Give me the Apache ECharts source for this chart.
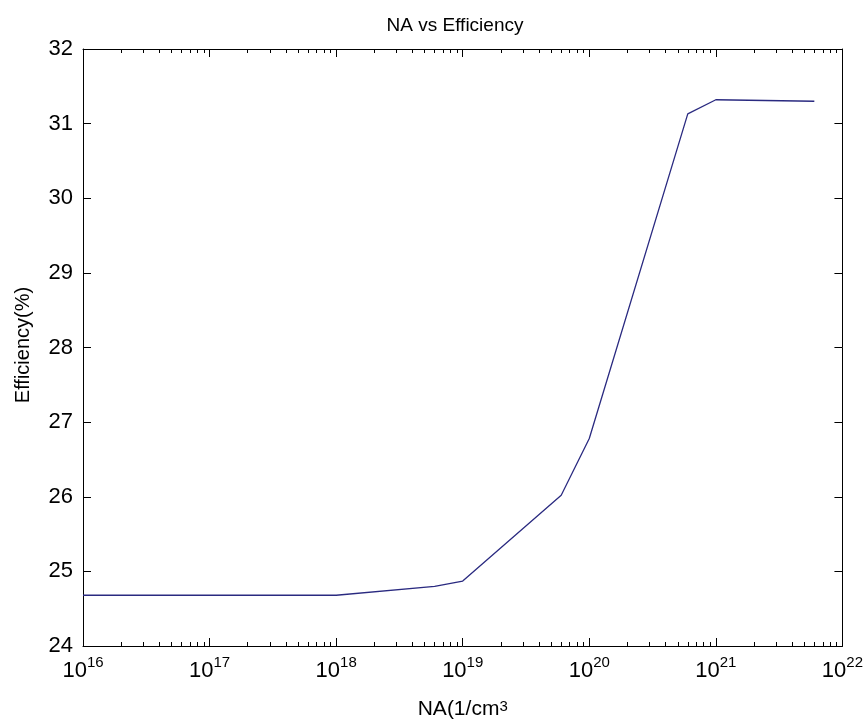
<!DOCTYPE html>
<html>
<head>
<meta charset="utf-8">
<script src="https://cdn.jsdelivr.net/npm/echarts@6/dist/echarts.min.js"></script>
<style>
html,body{margin:0;padding:0;background:#fff;}
#chart{width:866px;height:725px;}
</style>
</head>
<body>
<div id="chart"></div>
<script>
// ---- data ----
var naValues = [1e16, 1e17, 1e18, 6e18, 1e19, 6e19, 1e20, 6e20, 1e21, 6e21];
var efficiency = [24.68, 24.68, 24.68, 24.80, 24.87, 26.02, 26.78, 31.13, 31.32, 31.30];
var xMin = 1e16, xMax = 1e22;
var yMin = 24, yMax = 32, yStep = 1;
var titleText = 'NA vs Efficiency';
var yName = 'Efficiency(%)';
var xName = 'NA(1/cm{s|3}';

// minor log tick positions (2..9 x 10^k)
var minorTicks = [];
for (var k = 16; k < 22; k++) {
  for (var m = 2; m <= 9; m++) minorTicks.push(m * Math.pow(10, k));
}
var majorTicks = [];
for (var k2 = 16; k2 <= 22; k2++) majorTicks.push(Math.pow(10, k2));

var FONT = 'Liberation Sans, Arial, sans-serif';
var AX = {color: '#000', width: 1};

function xAx(pos, showLine, ticks, len, labels) {
  return {
    type: 'log', logBase: 10, min: xMin, max: xMax, position: pos,
    axisLine: {show: showLine, onZero: false, lineStyle: AX},
    axisTick: {show: true, inside: true, length: len, customValues: ticks, lineStyle: AX},
    axisLabel: labels ? {
      show: true, customValues: majorTicks, margin: 9,
      formatter: function (v) { return '{b|10}{s|' + Math.round(Math.log10(v)) + '}'; },
      rich: {
        b: {fontSize: 22, fontFamily: FONT, color: '#000', verticalAlign: 'bottom', lineHeight: 27},
        s: {fontSize: 15, fontFamily: FONT, color: '#000', verticalAlign: 'top', lineHeight: 15}
      }
    } : {show: false},
    splitLine: {show: false}, minorTick: {show: false}
  };
}

var chart = echarts.init(document.getElementById('chart'), null, {renderer: 'canvas'});
var xAxes = [
  xAx('bottom', true, majorTicks, 8, true),
  xAx('bottom', false, minorTicks, 4, false),
  xAx('top', true, majorTicks, 8, false),
  xAx('top', false, minorTicks, 4, false)
];
xAxes[0].name = xName;
xAxes[0].nameLocation = 'middle';
xAxes[0].nameGap = 53;
xAxes[0].nameTextStyle = {
  fontSize: 21, fontFamily: FONT, color: '#000',
  rich: {s: {fontSize: 15, fontFamily: FONT, color: '#000', verticalAlign: 'top', lineHeight: 15}}
};

var option = {
  backgroundColor: '#fff',
  animation: false,
  title: {
    text: titleText, left: 450, top: 11, textAlign: 'center',
    textStyle: {fontSize: 19, fontWeight: 'normal', fontFamily: FONT, color: '#000'}
  },
  graphic: [{
    type: 'text', x: 23, y: 345, rotation: Math.PI / 2,
    style: {text: yName, fontSize: 20, fontFamily: FONT, fill: '#000', align: 'center', verticalAlign: 'middle'}
  }],
  grid: {left: 83, right: 22, top: 49, bottom: 78, containLabel: false},
  xAxis: xAxes,
  yAxis: [
    {
      type: 'value', min: yMin, max: yMax, interval: yStep, position: 'left',
      axisLine: {show: true, lineStyle: AX},
      axisTick: {show: true, inside: true, length: 8, lineStyle: AX},
      axisLabel: {fontSize: 22, fontFamily: FONT, color: '#000', margin: 10},
      splitLine: {show: false}
    },
    {
      type: 'value', min: yMin, max: yMax, interval: yStep, position: 'right',
      axisLine: {show: true, lineStyle: AX},
      axisTick: {show: true, inside: true, length: 8, lineStyle: AX},
      axisLabel: {show: false},
      splitLine: {show: false}
    }
  ],
  series: [{
    type: 'line',
    xAxisIndex: 0, yAxisIndex: 0,
    data: naValues.map(function (x, i) { return [x, efficiency[i]]; }),
    showSymbol: false,
    lineStyle: {color: '#2a2a80', width: 1.3},
    itemStyle: {color: '#2a2a80'}
  }]
};
chart.setOption(option);
</script>
</body>
</html>
